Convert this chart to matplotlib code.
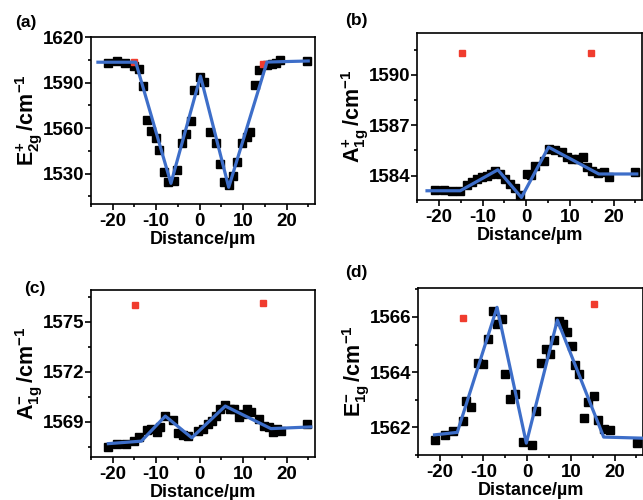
import numpy as np
import matplotlib
matplotlib.use("Agg")
import matplotlib.pyplot as plt
from matplotlib.ticker import MultipleLocator

plt.rcParams['font.family'] = ['Liberation Sans', 'DejaVu Sans']
plt.rcParams['font.weight'] = 'bold'
plt.rcParams['mathtext.fontset'] = 'custom'
plt.rcParams['mathtext.rm'] = 'Liberation Sans:bold'
plt.rcParams['mathtext.it'] = 'Liberation Sans:bold'
plt.rcParams['mathtext.bf'] = 'Liberation Sans:bold'
plt.rcParams['mathtext.default'] = 'bf'
plt.rcParams['axes.unicode_minus'] = False

# ---- (a) E2g+ ----
x_a = [-21.1, -19.0, -17.2, -15.0, -13.9, -13.1, -12.0, -11.2, -10.1, -9.3, -8.2, -7.2,
       -6.0, -5.3, -4.1, -3.1, -1.9, -1.3, 0.0, 1.0, 2.5, 3.7, 4.8, 5.7, 6.7, 7.7, 8.6,
       9.8, 10.8, 11.7, 12.8, 13.6, 15.5, 16.6, 17.6, 18.5, 24.7]
y_a = [1603.1, 1604.2, 1603.1, 1600.7, 1599.2, 1587.6, 1565.3, 1558.2, 1553.2, 1545.5,
       1531.3, 1524.7, 1525.2, 1532.4, 1549.9, 1555.8, 1564.6, 1585.4, 1593.7, 1590.4,
       1557.6, 1549.9, 1536.3, 1524.7, 1522.5, 1528.5, 1537.9, 1549.9, 1553.9, 1557.2,
       1588.7, 1598.1, 1601.4, 1602.0, 1603.1, 1605.1, 1604.0]
red_x_a = [-15.2, 14.6]
red_y_a = [1603.6, 1602.0]
fit_x_a = [-23.4, -14.7, -6.6, 0.2, 6.7, 15.5, 25.0]
fit_y_a = [1603.4, 1603.4, 1523.6, 1594.2, 1521.0, 1603.5, 1604.2]

# ---- (b) A1g+ ----
x_b = [-20.8, -18.9, -16.9, -15.1, -13.6, -12.4, -11.3, -10.2, -9.0, -8.0, -7.1, -6.0,
       -4.8, -3.7, -2.5, -1.4, 0.15, 1.1, 2.1, 4.0, 5.3, 6.6, 8.2, 9.3, 10.5, 11.8, 12.9,
       13.9, 15.0, 16.4, 17.7, 18.9, 24.8]
y_b = [1583.15, 1583.15, 1583.1, 1583.1, 1583.45, 1583.6, 1583.8, 1583.95, 1584.0,
       1584.1, 1584.3, 1584.1, 1583.8, 1583.5, 1583.25, 1582.85, 1584.1, 1584.05, 1584.6,
       1584.9, 1585.6, 1585.5, 1585.4, 1585.1, 1585.0, 1585.0, 1585.1, 1584.5, 1584.3,
       1584.15, 1584.2, 1583.95, 1584.2]
red_x_b = [-14.7, 14.9]
red_y_b = [1591.3, 1591.3]
fit_x_b = [-22.7, -15.1, -6.5, -1.1, 5.1, 16.6, 25.3]
fit_y_b = [1583.1, 1583.1, 1584.35, 1582.7, 1585.7, 1584.1, 1584.1]

# ---- (c) A1g- ----
x_c = [-21.0, -19.1, -17.0, -15.0, -14.0, -12.0, -11.1, -9.9, -9.2, -8.0, -6.1, -5.0,
       -3.8, -2.7, -0.4, 0.8, 1.9, 2.8, 3.8, 4.8, 5.9, 6.9, 7.9, 9.0, 9.9, 10.9, 11.8,
       13.7, 14.9, 15.9, 16.8, 17.9, 18.7, 24.8]
y_c = [1567.5, 1567.65, 1567.65, 1567.85, 1568.1, 1568.5, 1568.6, 1568.4, 1568.7,
       1569.35, 1569.1, 1568.35, 1568.2, 1568.15, 1568.45, 1568.55, 1568.9, 1569.05,
       1569.35, 1569.75, 1570.0, 1569.8, 1569.75, 1569.3, 1569.45, 1569.75, 1569.6,
       1569.2, 1568.75, 1568.7, 1568.4, 1568.6, 1568.45, 1568.9]
red_x_c = [-14.9, 14.7]
red_y_c = [1576.0, 1576.1]
fit_x_c = [-21.0, -13.4, -7.9, -1.8, 5.9, 16.4, 25.6]
fit_y_c = [1567.7, 1567.85, 1569.35, 1568.05, 1569.95, 1568.6, 1568.7]

# ---- (d) E1g- ----
x_d = [-21.0, -18.9, -16.9, -14.8, -13.9, -12.9, -11.2, -10.0, -8.9, -7.9, -6.9, -5.8,
       -5.0, -3.9, -2.9, -1.0, 1.1, 2.1, 3.1, 4.2, 5.2, 6.2, 7.2, 8.2, 9.2, 10.2, 10.9,
       11.9, 13.1, 14.0, 15.2, 16.2, 17.5, 19.0, 25.2]
y_d = [1561.55, 1561.73, 1561.86, 1562.24, 1562.94, 1562.73, 1564.33, 1564.29, 1565.19,
       1566.23, 1565.75, 1565.93, 1563.94, 1563.04, 1563.22, 1561.46, 1561.35, 1562.58,
       1564.35, 1564.83, 1564.66, 1565.15, 1565.87, 1565.75, 1565.45, 1564.96, 1564.27,
       1563.94, 1562.34, 1562.92, 1563.12, 1562.25, 1561.94, 1561.92, 1561.43]
red_x_d = [-14.8, 15.2]
red_y_d = [1565.98, 1566.46]
fit_x_d = [-21.2, -16.0, -6.9, -0.2, 6.9, 17.5, 26.3]
fit_y_d = [1561.73, 1561.82, 1566.35, 1561.43, 1565.89, 1561.65, 1561.61]

blue = '#3d6ec9'

fig = plt.figure(figsize=(6.43, 5.0), dpi=100)

panels = [
    ([0.1415, 0.592, 0.348, 0.334], x_a, y_a, red_x_a, red_y_a, fit_x_a, fit_y_a,
     (1510, 1620), 30, 15, r'$E_{2g}^{+}\,/cm^{-1}$', '(a)', (15, 22)),
    ([0.6485, 0.600, 0.350, 0.334], x_b, y_b, red_x_b, red_y_b, fit_x_b, fit_y_b,
     (1582.55, 1592.5), 3, 1.5, r'$A_{1g}^{+}\,/cm^{-1}$', '(b)', (345, 20)),
    ([0.1415, 0.086, 0.348, 0.334], x_c, y_c, red_x_c, red_y_c, fit_x_c, fit_y_c,
     (1566.9, 1576.9), 3, 1.5, r'$A_{1g}^{-}\,/cm^{-1}$', '(c)', (24, 288)),
    ([0.650, 0.090, 0.350, 0.334], x_d, y_d, red_x_d, red_y_d, fit_x_d, fit_y_d,
     (1561.0, 1567.05), 2, 1, r'$E_{1g}^{-}\,/cm^{-1}$', '(d)', (345, 272)),
]

for rect, xs, ys, rx, ry, fx, fy, ylim, major, minor, ylab, tag, tagpos in panels:
    ax = fig.add_axes(rect)
    ax.plot(xs, ys, 's', color='black', markersize=5.5, zorder=2)
    ax.plot(rx, ry, 's', color='#f03c2e', markersize=4.5, zorder=2)
    ax.plot(fx, fy, '-', color=blue, lw=2.3, zorder=3)
    ax.set_xlim(-25, 26.5)
    ax.set_ylim(*ylim)
    ax.xaxis.set_major_locator(MultipleLocator(10))
    ax.xaxis.set_minor_locator(MultipleLocator(5))
    ax.yaxis.set_major_locator(MultipleLocator(major))
    ax.yaxis.set_minor_locator(MultipleLocator(minor))
    ax.tick_params(which='both', direction='out', top=False, right=False,
                   labelsize=13.5, width=1.2)
    ax.tick_params(axis='y', pad=1)
    ax.tick_params(axis='x', pad=2.5)
    ax.tick_params(which='major', length=4)
    ax.tick_params(which='minor', length=2.5)
    for s in ax.spines.values():
        s.set_linewidth(1.2)
    ax.set_xlabel('Distance/\u00b5m', fontsize=13, fontweight='bold', labelpad=1)
    ax.set_ylabel(ylab, fontsize=15.5, labelpad=-2)
    fig.text(tagpos[0] / 643, 1 - tagpos[1] / 500, tag, fontsize=12.5,
             fontweight='bold', va='center')

fig.savefig("out.png", dpi=100)
